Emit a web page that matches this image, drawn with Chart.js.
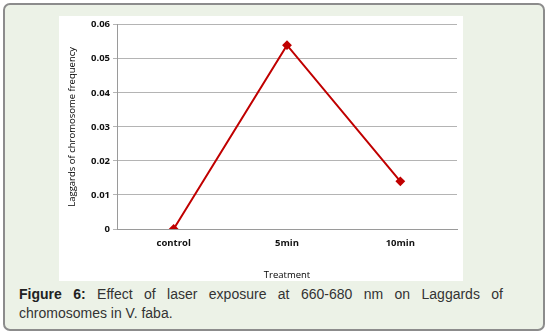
<!DOCTYPE html>
<html>
<head>
<meta charset="utf-8">
<script src="https://cdn.jsdelivr.net/npm/chart.js@4/dist/chart.umd.min.js"></script>
<style>
  html, body { margin: 0; padding: 0; background: #ffffff; }
  #frame {
    position: absolute; left: 3px; top: 3px; width: 538px; height: 324px;
    background: #ecf2e7; border: 2px solid #8c8c8c; border-radius: 7px;
  }
  #plot { position: absolute; left: 54px; top: 11px; width: 404px; height: 265px; background: #fff; }
  #caption {
    position: absolute; left: 14px; top: 280px; width: 484px;
    font-family: "Liberation Sans", Arial, sans-serif; font-size: 14px; line-height: 19px;
    color: #333; text-align: justify; text-align-last: left;
  }
  #caption b { color: #222; }
</style>
</head>
<body>
<div id="frame">
  <div id="plot"><canvas id="chart" width="404" height="265"></canvas></div>
  <div id="caption"><b>Figure 6:</b> Effect of laser exposure at 660-680 nm on Laggards of chromosomes in V. faba.</div>
</div>
<script>
const treatments = ['control', '5min', '10min'];
const laggards = [0, 0.054, 0.014];
const yTicks = [0, 0.01, 0.02, 0.03, 0.04, 0.05, 0.06];

const lineRed = '#c00000';
const tickFont = { family: 'Open Sans', size: 9.5, weight: 'bold' };
const titleFont = { family: 'Open Sans', size: 9.5, weight: 'normal' };

const ctx = document.getElementById('chart').getContext('2d');
const myChart = new Chart(ctx, {
  type: 'line',
  data: {
    labels: treatments,
    datasets: [{
      data: laggards,
      borderColor: lineRed,
      backgroundColor: lineRed,
      borderWidth: 2,
      pointStyle: 'rectRot',
      pointRadius: 3.5,
      tension: 0
    }]
  },
  options: {
    responsive: false,
    animation: false,
    layout: { padding: { top: 8, right: 6, left: 6, bottom: 0 } },
    plugins: { legend: { display: false }, tooltip: { enabled: false } },
    scales: {
      x: {
        offset: true,
        grid: { display: false, drawTicks: false },
        border: { color: '#9a9a9a' },
        ticks: { font: tickFont, color: '#111', padding: 9 },
        title: {
          display: true, text: 'Treatment', color: '#000',
          font: titleFont, padding: { top: 4, bottom: 0 }
        },
        afterFit: axis => { axis.height = 52; }
      },
      y: {
        min: 0,
        max: 0.06,
        afterBuildTicks: axis => { axis.ticks = yTicks.map(v => ({ value: v })); },
        grid: { color: '#b4b4b4', tickLength: 4 },
        border: { color: '#9a9a9a' },
        ticks: {
          font: tickFont, color: '#111', padding: 3,
          callback: v => v === 0 ? '0' : v.toFixed(2)
        },
        title: {
          display: true, text: 'Laggards of chromosome frequency', color: '#000',
          font: titleFont, padding: { top: 2, bottom: 4 }
        },
        afterFit: axis => { axis.width = 52; }
      }
    }
  }
});
</script>
</body>
</html>
